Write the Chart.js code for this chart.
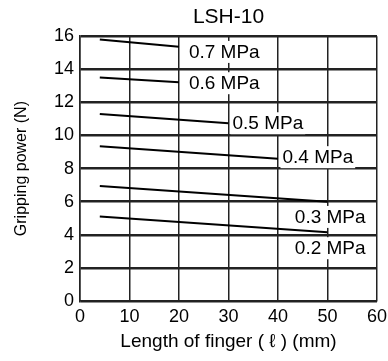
<!DOCTYPE html>
<html>
<head>
<meta charset="utf-8">
<script src="https://cdn.jsdelivr.net/npm/chart.js@4"></script>
<style>
  html, body { margin: 0; padding: 0; background: #fff; }
  #wrap { width: 388px; height: 361px; }
</style>
</head>
<body>
<div id="wrap"><canvas id="chart" width="388" height="361"></canvas></div>
<script>
// Gripping power curves
const pressures = ['0.7 MPa', '0.6 MPa', '0.5 MPa', '0.4 MPa', '0.3 MPa', '0.2 MPa'];
const startLength = [4, 4, 4, 4, 4, 4];
const endLength = [20, 20, 30, 40, 50, 50];
const startForce = [15.8, 13.5, 11.3, 9.35, 6.95, 5.1];
const endForce = [15.36, 13.22, 10.74, 8.59, 6.0, 4.15];

// where each pressure label sits (data units, left edge / middle)
const labelX = [22, 22, 30.8, 40.9, 43.4, 43.4];
const labelY = [15.05, 13.16, 10.74, 8.69, 5.08, 3.19];

const FONT = '"Liberation Sans", Arial, sans-serif';

const datasets = pressures.map((p, i) => ({
  label: p,
  data: [
    { x: startLength[i], y: startForce[i] },
    { x: endLength[i], y: endForce[i] }
  ],
  borderColor: '#000',
  borderWidth: 2,
  pointRadius: 0,
  fill: false
}));

// labels with a white box behind, like the original drawing
const pressureLabels = {
  id: 'pressureLabels',
  afterDatasetsDraw(chart) {
    const ctx = chart.ctx;
    const xs = chart.scales.x;
    const ys = chart.scales.y;
    ctx.save();
    ctx.font = '19px ' + FONT;
    ctx.textAlign = 'left';
    ctx.textBaseline = 'middle';
    pressures.forEach((p, i) => {
      const px = xs.getPixelForValue(labelX[i]);
      const py = ys.getPixelForValue(labelY[i]);
      const w = ctx.measureText(p).width;
      ctx.fillStyle = '#fff';
      ctx.fillRect(px - 2, py - 11, w + 4, 22);
      ctx.fillStyle = '#000';
      ctx.fillText(p, px, py + 1);
    });
    ctx.restore();
  }
};

new Chart(document.getElementById('chart'), {
  type: 'scatter',
  data: { datasets: datasets },
  options: {
    responsive: false,
    animation: false,
    showLine: true,
    layout: { padding: 0 },
    plugins: {
      legend: { display: false },
      tooltip: { enabled: false },
      title: {
        display: true,
        text: 'LSH-10',
        color: '#000',
        fullSize: false,
        font: { family: FONT, size: 21, weight: 'normal' },
        padding: { top: 5, bottom: 6 }
      }
    },
    scales: {
      x: {
        type: 'linear',
        min: 0,
        max: 60,
        afterFit: scale => { scale.height = 60; scale.paddingRight = 11; },
        ticks: { stepSize: 10, color: '#000', padding: 5, font: { family: FONT, size: 18 } },
        grid: { drawTicks: false, color: '#222', lineWidth: 1.5 },
        border: { display: true, color: '#222', width: 1.5 },
        title: {
          display: true,
          text: 'Length of finger ( ℓ ) (mm)',
          color: '#000',
          font: { family: FONT, size: 19 },
          padding: { top: 0, bottom: 8 }
        }
      },
      y: {
        type: 'linear',
        min: 0,
        max: 16,
        afterFit: scale => { scale.width = 80; },
        ticks: { stepSize: 2, color: '#000', padding: 6, font: { family: FONT, size: 18 } },
        grid: { drawTicks: false, color: '#222', lineWidth: 2.5 },
        border: { display: true, color: '#222', width: 1.5 },
        title: {
          display: true,
          text: 'Gripping power (N)',
          color: '#000',
          font: { family: FONT, size: 16 },
          padding: { top: 12, bottom: 0 }
        }
      }
    }
  },
  plugins: [pressureLabels]
});
</script>
</body>
</html>
